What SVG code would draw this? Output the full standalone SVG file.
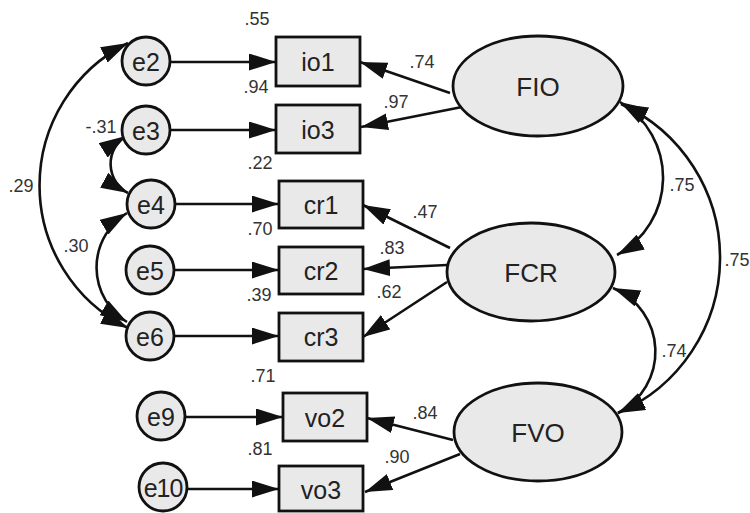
<svg xmlns="http://www.w3.org/2000/svg" width="750" height="513" viewBox="0 0 750 513">
<style>
.n{fill:#e9e9e9;stroke:#111;stroke-width:2.8}
.t{font-family:"Liberation Sans",Arial,sans-serif;font-size:25px;fill:#222;text-anchor:middle;dominant-baseline:central}
.v{font-family:"Liberation Sans",Arial,sans-serif;font-size:18px;fill:#333;text-anchor:middle;dominant-baseline:central}
.c{fill:none;stroke:#111;stroke-width:2.6}
</style>
<defs>
<marker id="ah" markerUnits="userSpaceOnUse" markerWidth="27" markerHeight="17" viewBox="0 0 27 17" refX="27" refY="8.5" orient="auto-start-reverse">
<path d="M0,0 L27,8.5 L0,17 z" fill="#111"/>
</marker>
</defs>
<rect width="750" height="513" fill="#fff"/>
<g id="connectors">
<path class="c" d="M171,62 H276" marker-end="url(#ah)"/>
<path class="c" d="M171,130 H276" marker-end="url(#ah)"/>
<path class="c" d="M175,204 H279" marker-end="url(#ah)"/>
<path class="c" d="M174,270 H279" marker-end="url(#ah)"/>
<path class="c" d="M174,336 H279" marker-end="url(#ah)"/>
<path class="c" d="M185,417 H283" marker-end="url(#ah)"/>
<path class="c" d="M187,489 H279" marker-end="url(#ah)"/>
<path class="c" d="M450,93 L360,62" marker-end="url(#ah)"/>
<path class="c" d="M462,107 L361,127" marker-end="url(#ah)"/>
<path class="c" d="M450,248 L363,205" marker-end="url(#ah)"/>
<path class="c" d="M447,265 L363,269" marker-end="url(#ah)"/>
<path class="c" d="M447,282 L363,337" marker-end="url(#ah)"/>
<path class="c" d="M453,440 L367,418" marker-end="url(#ah)"/>
<path class="c" d="M460,454 L365,492" marker-end="url(#ah)"/>
<path class="c" d="M128,43 A159,159 0 0 0 128,328" marker-start="url(#ah)" marker-end="url(#ah)"/>
<path class="c" d="M126,136 A33,33 0 0 0 128,193" marker-start="url(#ah)" marker-end="url(#ah)"/>
<path class="c" d="M127,213 A64,64 0 0 0 127,322" marker-start="url(#ah)" marker-end="url(#ah)"/>
<path class="c" d="M620,102 A88,88 0 0 1 617,255" marker-start="url(#ah)" marker-end="url(#ah)"/>
<path class="c" d="M621,104 A169,169 0 0 1 618,413" marker-start="url(#ah)" marker-end="url(#ah)"/>
<path class="c" d="M613,288 A69,69 0 0 1 618,413" marker-start="url(#ah)" marker-end="url(#ah)"/>
</g>
<g id="e2"><circle class="n" cx="146" cy="61" r="24"/><text class="t" x="146" y="62">e2</text></g>
<g id="e3"><circle class="n" cx="146" cy="130" r="24"/><text class="t" x="146" y="131">e3</text></g>
<g id="e4"><circle class="n" cx="151" cy="204" r="24"/><text class="t" x="151" y="205">e4</text></g>
<g id="e5"><circle class="n" cx="150" cy="270" r="24"/><text class="t" x="150" y="271">e5</text></g>
<g id="e6"><circle class="n" cx="150" cy="336" r="24"/><text class="t" x="150" y="337">e6</text></g>
<g id="e9"><circle class="n" cx="161" cy="416" r="24"/><text class="t" x="161" y="417">e9</text></g>
<g id="e10"><circle class="n" cx="163" cy="487" r="24"/><text class="t" x="163" y="488" style="letter-spacing:-1px">e10</text></g>
<g id="io1"><rect class="n" x="276" y="37" width="84" height="49"/><text class="t" x="318" y="62">io1</text></g>
<g id="io3"><rect class="n" x="276" y="105" width="84" height="48"/><text class="t" x="318" y="130">io3</text></g>
<g id="cr1"><rect class="n" x="279" y="181" width="84" height="47"/><text class="t" x="321" y="205">cr1</text></g>
<g id="cr2"><rect class="n" x="279" y="247" width="84" height="47"/><text class="t" x="321" y="271">cr2</text></g>
<g id="cr3"><rect class="n" x="279" y="313" width="84" height="48"/><text class="t" x="321" y="337">cr3</text></g>
<g id="vo2"><rect class="n" x="283" y="393" width="84" height="48"/><text class="t" x="325" y="418">vo2</text></g>
<g id="vo3"><rect class="n" x="279" y="466" width="84" height="45"/><text class="t" x="321" y="490">vo3</text></g>
<g id="FIO"><ellipse class="n" cx="538" cy="86" rx="85" ry="50"/><text class="t" x="538" y="87" style="font-size:26px">FIO</text></g>
<g id="FCR"><ellipse class="n" cx="531" cy="272" rx="84" ry="49"/><text class="t" x="531" y="273" style="font-size:26px">FCR</text></g>
<g id="FVO"><ellipse class="n" cx="538" cy="432" rx="84" ry="49"/><text class="t" x="538" y="433" style="font-size:26px">FVO</text></g>
<g id="labels">
<text class="v" x="257" y="19">.55</text>
<text class="v" x="256" y="87">.94</text>
<text class="v" x="101" y="127">-.31</text>
<text class="v" x="260" y="163">.22</text>
<text class="v" x="21" y="186">.29</text>
<text class="v" x="260" y="229">.70</text>
<text class="v" x="76" y="246">.30</text>
<text class="v" x="259" y="295">.39</text>
<text class="v" x="263" y="376">.71</text>
<text class="v" x="260" y="449">.81</text>
<text class="v" x="422" y="62">.74</text>
<text class="v" x="396" y="102">.97</text>
<text class="v" x="682" y="185">.75</text>
<text class="v" x="425" y="212">.47</text>
<text class="v" x="392" y="248">.83</text>
<text class="v" x="737" y="260">.75</text>
<text class="v" x="389" y="292">.62</text>
<text class="v" x="674" y="351">.74</text>
<text class="v" x="425" y="413">.84</text>
<text class="v" x="397" y="457">.90</text>
</g>
</svg>
